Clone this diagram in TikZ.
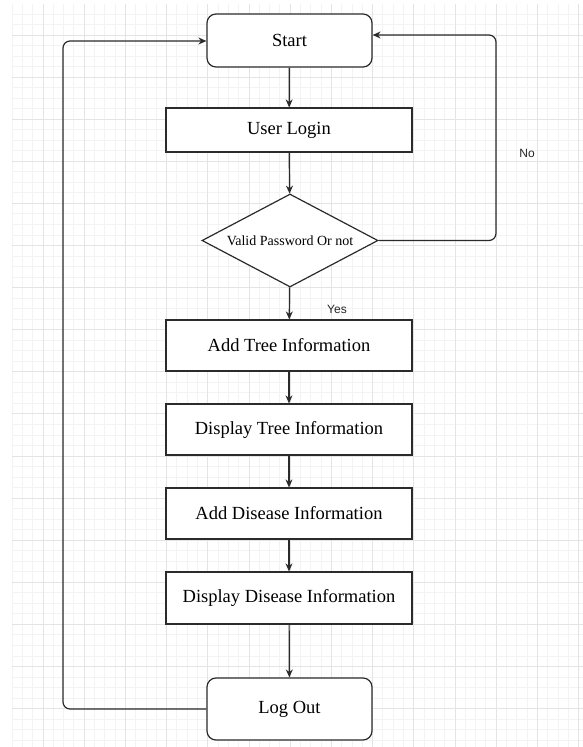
\documentclass[tikz,border=0pt]{standalone}
\usepackage{fontspec}
\setmainfont{Liberation Serif}
\newfontfamily\labelfont{Liberation Sans}
\usetikzlibrary{shapes.geometric,arrows.meta,calc}
\definecolor{gridminor}{HTML}{F3F3F3}
\definecolor{gridmajor}{HTML}{E4E4E4}
\definecolor{linec}{HTML}{2B2B2B}
\tikzset{
  box/.style={draw=linec, line width=1.2pt, fill=white, rectangle, minimum width=246pt, inner sep=0pt,
    font=\fontsize{18.5}{22}\selectfont},
  term/.style={draw=linec, line width=1.2pt, fill=white, rectangle, rounded corners=9pt, minimum width=165pt, inner sep=0pt,
    font=\fontsize{18.5}{22}\selectfont},
  decision/.style={draw=linec, line width=1.2pt, fill=white, diamond, aspect=1.89, minimum width=176pt, minimum height=93pt, inner sep=0pt,
    font=\fontsize{14}{16}\selectfont},
  conn/.style={draw=linec, line width=1.2pt, -{Stealth[length=8pt,width=7pt]}},
  lbl/.style={font=\labelfont\fontsize{12}{14}\selectfont, text=black!85}
}
\begin{document}
\begin{tikzpicture}[x=1pt,y=-1pt]
\useasboundingbox (0,0) rectangle (583,747);
\fill[white] (0,0) rectangle (583,747);
% grid
\begin{scope}
\clip (12,4) rectangle (583,747);
\foreach \i in {-1,...,56} {
  \draw[gridminor, line width=0.9pt] ({1.8+\i*10.3},0) -- ({1.8+\i*10.3},747);
}
\foreach \j in {-1,...,72} {
  \draw[gridminor, line width=0.9pt] (0,{-7.1+\j*10.525}) -- (583,{-7.1+\j*10.525});
}
\foreach \i in {0,...,14} {
  \draw[gridmajor, line width=1pt] ({1.8+\i*41.2},0) -- ({1.8+\i*41.2},747);
}
\foreach \j in {0,...,18} {
  \draw[gridmajor, line width=1pt] (0,{-7.1+\j*42.1}) -- (583,{-7.1+\j*42.1});
}
\end{scope}
% nodes
\node[term, minimum height=53pt] (start) at (289.5,40.5) {Start};
\node[box, minimum height=44pt] (login) at (289,130) {User Login};
\node[decision] (valid) at (290,240.5) {Valid Password Or not};
\node[box, minimum height=51pt] (addtree) at (289,345.5) {Add Tree Information};
\node[box, minimum height=51pt] (disptree) at (289,429.5) {Display Tree Information};
\node[box, minimum height=51pt] (adddis) at (289,513.5) {Add Disease Information};
\node[box, minimum height=52pt] (dispdis) at (289,598) {Display Disease Information};
\node[term, minimum height=62pt] (logout) at (289.5,709) {Log Out};
% connectors
\draw[conn] (start) -- (login);
\draw[conn] (login) -- (valid);
\draw[conn] (valid) -- (addtree);
\draw[conn] (addtree) -- (disptree);
\draw[conn] (disptree) -- (adddis);
\draw[conn] (adddis) -- (dispdis);
\draw[conn] (dispdis) -- (logout);
\coordinate (nr) at (496,35);
\coordinate (nl) at (63,41);
\draw[conn, rounded corners=7pt] (valid.east) -| (nr) -- (start.east |- nr);
\draw[conn, rounded corners=7pt] (logout.west) -| (nl) -- (start.west |- nl);
% labels
\node[lbl] (nolbl) at (527,153) {No};
\node[lbl] (yeslbl) at (337,309) {Yes};
\end{tikzpicture}
\end{document}
